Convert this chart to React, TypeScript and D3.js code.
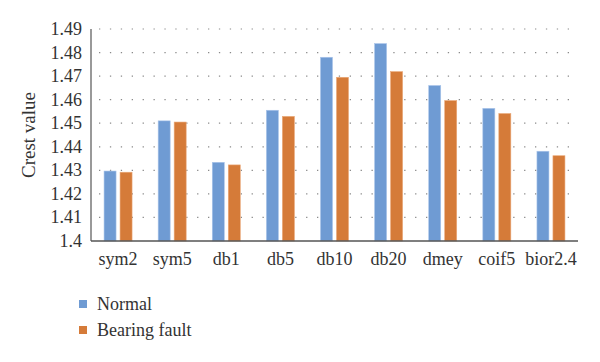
import { useRef, useEffect } from 'react';
import * as d3 from 'd3';

const categories = ['sym2', 'sym5', 'db1', 'db5', 'db10', 'db20', 'dmey', 'coif5', 'bior2.4'];
const normal = [1.4297, 1.451, 1.4334, 1.4555, 1.478, 1.4838, 1.466, 1.4563, 1.4381];
const bearingFault = [1.4292, 1.4505, 1.4323, 1.4529, 1.4695, 1.4719, 1.4596, 1.4541, 1.4362];
const yTicks = [1.4, 1.41, 1.42, 1.43, 1.44, 1.45, 1.46, 1.47, 1.48, 1.49];
const seriesNames = ['Normal', 'Bearing fault'];
const colors = ['#6f9bd3', '#d57b39'];

const WIDTH = 600;
const HEIGHT = 362;
const FONT = "'Liberation Serif', 'DejaVu Serif', serif";

export default function App() {
  const svgRef = useRef<SVGSVGElement>(null);

  useEffect(() => {
    if (!svgRef.current) return;
    const svg = d3.select(svgRef.current);
    svg.selectAll('*').remove();

    const left = 91;
    const right = 578;
    const top = 29;
    const bottom = 241;

    const x = d3.scaleBand<string>().domain(categories).range([left, right]).padding(0);
    const y = d3.scaleLinear().domain([1.4, 1.49]).range([bottom, top]);

    // dotted gridlines
    svg
      .append('g')
      .selectAll('line')
      .data(yTicks.slice(1))
      .enter()
      .append('line')
      .attr('x1', left + 8)
      .attr('x2', right)
      .attr('y1', (d) => y(d))
      .attr('y2', (d) => y(d))
      .attr('stroke', '#8a8a8a')
      .attr('stroke-width', 1.2)
      .attr('stroke-dasharray', '1.3,9.6');

    // bars
    const barW = 12;
    const gap = 4;
    const series = [normal, bearingFault];
    series.forEach((vals, si) => {
      svg
        .append('g')
        .selectAll('rect')
        .data(vals)
        .enter()
        .append('rect')
        .attr('x', (_, i) => {
          const c = x(categories[i])! + x.bandwidth() / 2;
          return si === 0 ? c - gap / 2 - barW : c + gap / 2;
        })
        .attr('y', (d) => y(d))
        .attr('width', barW)
        .attr('height', (d) => bottom - y(d))
        .attr('fill', colors[si])
        .attr('stroke', si === 0 ? '#a9c4ea' : '#eaa878')
        .attr('stroke-width', 0.6);
    });

    // axis lines
    svg
      .append('line')
      .attr('x1', left)
      .attr('x2', left)
      .attr('y1', top)
      .attr('y2', bottom)
      .attr('stroke', '#555')
      .attr('stroke-width', 1.2);
    svg
      .append('line')
      .attr('x1', left)
      .attr('x2', right)
      .attr('y1', bottom)
      .attr('y2', bottom)
      .attr('stroke', '#555')
      .attr('stroke-width', 1.5);

    // y tick labels
    svg
      .append('g')
      .selectAll('text')
      .data(yTicks)
      .enter()
      .append('text')
      .attr('x', 82)
      .attr('y', (d) => y(d) + 6)
      .attr('text-anchor', 'end')
      .style('font-family', FONT)
      .style('font-size', '18px')
      .attr('fill', '#333')
      .text((d) => (d === 1.4 ? '1.4' : d.toFixed(2)));

    // x labels
    svg
      .append('g')
      .selectAll('text')
      .data(categories)
      .enter()
      .append('text')
      .attr('x', (d) => x(d)! + x.bandwidth() / 2)
      .attr('y', 265)
      .attr('text-anchor', 'middle')
      .style('font-family', FONT)
      .style('font-size', '18px')
      .attr('fill', '#333')
      .text((d) => d);

    // y axis title
    svg
      .append('text')
      .attr('transform', `translate(35, 135) rotate(-90)`)
      .attr('text-anchor', 'middle')
      .style('font-family', FONT)
      .style('font-size', '19px')
      .attr('fill', '#333')
      .text('Crest value');

    // legend
    const legend = svg.append('g');
    seriesNames.forEach((name, i) => {
      const ly = 304 + i * 26;
      legend
        .append('rect')
        .attr('x', 79)
        .attr('y', ly - 4)
        .attr('width', 8)
        .attr('height', 8)
        .attr('fill', colors[i]);
      legend
        .append('text')
        .attr('x', 97)
        .attr('y', ly + 6)
        .style('font-family', FONT)
        .style('font-size', '18px')
        .attr('fill', '#333')
        .text(name);
    });
  }, []);

  return (
    <svg
      ref={svgRef}
      width={WIDTH}
      height={HEIGHT}
      style={{ position: 'absolute', left: 0, top: 0, background: '#fff' }}
    />
  );
}
